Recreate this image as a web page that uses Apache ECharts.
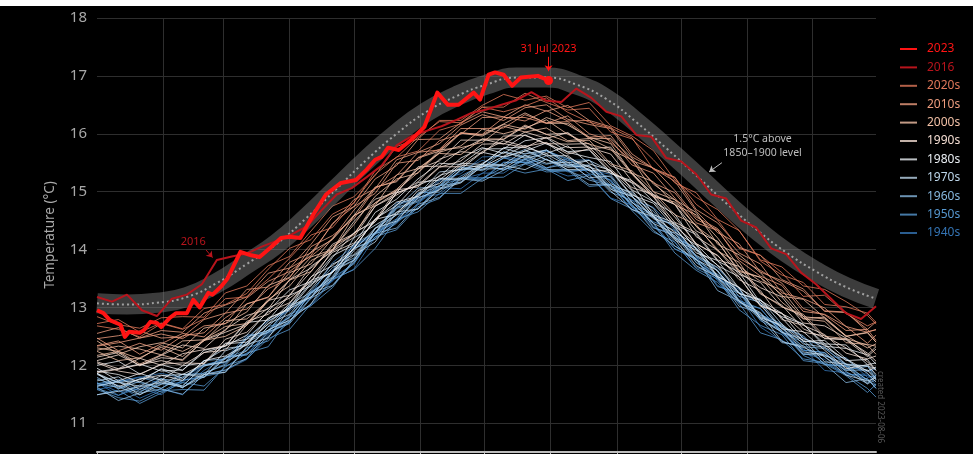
<!DOCTYPE html>
<html>
<head>
<meta charset="utf-8">
<script src="https://cdn.jsdelivr.net/npm/echarts@6/dist/echarts.min.js"></script>
<style>
  html, body { margin: 0; background: #fff; }
  #chart { position: absolute; left: 0; top: 6px; width: 973px; height: 448px; background: #000; }
</style>
</head>
<body>
<div id="chart"></div>
<script>
// calendar (non-leap year, day index 0 = 1 Jan)
const monthNames = ['Jan', 'Feb', 'Mar', 'Apr', 'May', 'Jun', 'Jul', 'Aug', 'Sep', 'Oct', 'Nov', 'Dec']
const monthLengths = [31, 28, 31, 30, 31, 30, 31, 31, 30, 31, 30, 31]

// 1.5°C above 1850–1900 level
const levelDays = [0, 14, 28, 42, 56, 70, 84, 98, 112, 126, 140, 154, 168, 182, 196, 210, 224, 238, 252, 266, 280, 294, 308, 322, 336, 350, 364]
const level15 = [13.07, 13.05, 13.08, 13.18, 13.42, 13.75, 14.10, 14.55, 15.05, 15.55, 16.00, 16.38, 16.65, 16.85, 16.97, 16.97, 16.85, 16.60, 16.20, 15.75, 15.28, 14.80, 14.35, 13.95, 13.62, 13.35, 13.15]

// day indices of the yearly lines below
const sampleDays = [0, 10, 20, 30, 40, 50, 60, 70, 80, 90, 100, 110, 120, 130, 140, 150, 160, 170, 180, 190, 200, 210, 220, 230, 240, 250, 260, 270, 280, 290, 300, 310, 320, 330, 340, 350, 360, 364]

// daily global surface air temperature (°C), one row per year
const years1940s = [
  [11.70, 11.48, 11.61, 11.49, 11.74, 11.79, 12.13, 12.20, 12.55, 12.74, 13.28, 13.47, 13.76, 14.28, 14.51, 14.91, 14.95, 15.24, 15.22, 15.51, 15.51, 15.41, 15.54, 15.23, 15.12, 14.69, 14.55, 14.12, 13.69, 13.56, 13.08, 12.87, 12.65, 12.21, 12.10, 11.83, 11.85, 11.66],
  [11.67, 11.72, 11.80, 11.68, 11.70, 12.00, 12.11, 12.52, 12.56, 12.99, 13.15, 13.64, 14.07, 14.26, 14.76, 14.89, 15.04, 15.36, 15.54, 15.44, 15.66, 15.71, 15.46, 15.37, 15.30, 14.81, 14.61, 14.39, 13.87, 13.50, 13.31, 12.82, 12.67, 12.49, 12.15, 12.13, 11.79, 11.82],
  [11.58, 11.65, 11.43, 11.59, 11.49, 11.84, 11.91, 12.10, 12.52, 12.88, 13.03, 13.47, 13.66, 14.22, 14.45, 14.80, 15.07, 15.05, 15.32, 15.32, 15.56, 15.40, 15.27, 15.30, 14.89, 14.77, 14.41, 14.01, 13.84, 13.38, 13.19, 12.66, 12.42, 12.29, 11.91, 11.87, 11.76, 11.60],
  [11.65, 11.71, 11.79, 11.86, 11.78, 12.00, 12.04, 12.48, 12.77, 12.94, 13.22, 13.77, 14.06, 14.29, 14.81, 14.86, 15.20, 15.31, 15.60, 15.61, 15.54, 15.72, 15.54, 15.55, 15.17, 14.85, 14.73, 14.34, 13.88, 13.68, 13.26, 13.07, 12.57, 12.47, 12.31, 11.99, 11.89, 11.94],
  [11.70, 11.54, 11.59, 11.77, 11.61, 11.91, 12.13, 12.18, 12.60, 12.83, 13.27, 13.45, 14.04, 14.26, 14.48, 14.79, 15.18, 15.22, 15.31, 15.59, 15.49, 15.56, 15.34, 15.38, 15.20, 14.76, 14.37, 14.28, 13.86, 13.46, 13.08, 12.98, 12.55, 12.26, 12.22, 11.85, 11.82, 11.79]
]
const years1950s = [
  [11.49, 11.57, 11.34, 11.52, 11.70, 11.64, 11.97, 12.21, 12.32, 12.83, 13.03, 13.34, 13.83, 14.22, 14.34, 14.74, 14.88, 15.24, 15.24, 15.25, 15.48, 15.34, 15.36, 15.09, 15.12, 14.67, 14.30, 14.13, 13.67, 13.49, 12.96, 12.69, 12.53, 12.08, 12.03, 11.82, 11.53, 11.67],
  [11.63, 11.73, 11.55, 11.68, 11.65, 11.98, 12.12, 12.26, 12.67, 12.76, 13.17, 13.64, 13.82, 14.30, 14.53, 14.98, 14.99, 15.27, 15.46, 15.37, 15.58, 15.47, 15.57, 15.31, 15.20, 14.73, 14.48, 14.33, 13.77, 13.54, 13.12, 12.98, 12.56, 12.40, 12.01, 11.99, 11.70, 11.83],
  [11.60, 11.48, 11.66, 11.54, 11.74, 11.81, 11.88, 12.30, 12.42, 12.75, 13.25, 13.51, 13.75, 14.29, 14.48, 14.71, 15.10, 15.23, 15.20, 15.50, 15.51, 15.37, 15.36, 15.37, 14.99, 14.85, 14.46, 14.01, 13.83, 13.36, 13.25, 12.77, 12.58, 12.17, 12.01, 11.99, 11.75, 11.61],
  [11.68, 11.75, 11.70, 11.60, 11.84, 11.86, 12.02, 12.48, 12.60, 13.02, 13.17, 13.61, 14.01, 14.18, 14.71, 14.82, 15.09, 15.43, 15.38, 15.58, 15.50, 15.70, 15.57, 15.36, 15.25, 14.74, 14.59, 14.19, 14.02, 13.62, 13.13, 12.87, 12.72, 12.26, 12.22, 11.92, 11.98, 11.82],
  [11.58, 11.44, 11.38, 11.56, 11.58, 11.57, 11.99, 12.11, 12.46, 12.62, 13.06, 13.49, 13.65, 14.02, 14.52, 14.65, 14.97, 14.97, 15.23, 15.42, 15.32, 15.39, 15.19, 15.28, 14.88, 14.70, 14.45, 13.94, 13.64, 13.43, 13.07, 12.56, 12.44, 12.11, 12.05, 11.84, 11.60, 11.45]
]
const years1960s = [
  [11.68, 11.62, 11.49, 11.72, 11.62, 11.80, 12.15, 12.18, 12.49, 12.85, 13.25, 13.38, 13.81, 14.30, 14.60, 14.70, 15.06, 15.17, 15.46, 15.38, 15.48, 15.62, 15.37, 15.20, 15.10, 14.93, 14.38, 14.24, 13.78, 13.51, 13.02, 12.90, 12.60, 12.19, 12.21, 11.89, 11.68, 11.75],
  [11.62, 11.39, 11.52, 11.59, 11.50, 11.84, 11.92, 12.12, 12.58, 12.72, 13.16, 13.37, 13.78, 14.28, 14.37, 14.78, 14.90, 15.22, 15.18, 15.37, 15.56, 15.38, 15.38, 15.12, 15.12, 14.78, 14.33, 14.06, 13.84, 13.29, 13.11, 12.80, 12.39, 12.34, 12.02, 11.70, 11.77, 11.60],
  [11.86, 11.60, 11.72, 11.60, 11.80, 12.01, 12.06, 12.49, 12.60, 12.83, 13.29, 13.69, 13.85, 14.36, 14.73, 14.84, 15.11, 15.42, 15.36, 15.58, 15.73, 15.55, 15.44, 15.44, 15.07, 14.91, 14.66, 14.21, 14.03, 13.50, 13.25, 12.86, 12.67, 12.51, 12.14, 11.91, 11.92, 11.78],
  [11.76, 11.65, 11.53, 11.77, 11.61, 11.87, 12.00, 12.40, 12.57, 12.75, 13.25, 13.51, 14.02, 14.18, 14.47, 14.95, 15.10, 15.16, 15.44, 15.45, 15.63, 15.41, 15.48, 15.39, 15.05, 14.81, 14.59, 14.06, 13.82, 13.57, 13.27, 12.80, 12.60, 12.19, 12.17, 12.02, 11.74, 11.65],
  [11.79, 11.59, 11.77, 11.76, 11.73, 12.08, 12.11, 12.45, 12.57, 13.05, 13.26, 13.53, 14.10, 14.29, 14.72, 15.06, 15.09, 15.37, 15.42, 15.69, 15.60, 15.72, 15.46, 15.46, 15.10, 14.99, 14.58, 14.40, 13.88, 13.63, 13.19, 13.09, 12.64, 12.32, 12.29, 12.02, 11.99, 11.76]
]
const years1970s = [
  [11.64, 11.72, 11.49, 11.67, 11.85, 11.79, 12.12, 12.36, 12.47, 12.98, 13.18, 13.49, 13.98, 14.37, 14.49, 14.89, 15.03, 15.39, 15.39, 15.40, 15.63, 15.49, 15.51, 15.24, 15.27, 14.82, 14.45, 14.28, 13.82, 13.64, 13.11, 12.84, 12.68, 12.23, 12.18, 11.97, 11.68, 11.82],
  [11.84, 11.70, 11.64, 11.82, 11.84, 11.83, 12.25, 12.37, 12.72, 12.88, 13.32, 13.75, 13.91, 14.28, 14.78, 14.91, 15.23, 15.23, 15.49, 15.68, 15.58, 15.65, 15.45, 15.54, 15.14, 14.96, 14.71, 14.20, 13.90, 13.69, 13.33, 12.82, 12.70, 12.37, 12.31, 12.10, 11.86, 11.71],
  [11.49, 11.55, 11.63, 11.70, 11.62, 11.84, 11.88, 12.32, 12.61, 12.78, 13.06, 13.61, 13.90, 14.13, 14.65, 14.70, 15.04, 15.15, 15.44, 15.45, 15.38, 15.56, 15.38, 15.39, 15.01, 14.69, 14.57, 14.18, 13.72, 13.52, 13.10, 12.91, 12.41, 12.31, 12.15, 11.83, 11.73, 11.78],
  [11.86, 11.70, 11.75, 11.93, 11.77, 12.07, 12.29, 12.34, 12.76, 12.99, 13.43, 13.61, 14.20, 14.42, 14.64, 14.95, 15.34, 15.38, 15.47, 15.75, 15.65, 15.72, 15.50, 15.54, 15.36, 14.92, 14.53, 14.44, 14.02, 13.62, 13.24, 13.14, 12.71, 12.42, 12.38, 12.01, 11.98, 11.95],
  [11.73, 11.80, 11.58, 11.74, 11.64, 11.99, 12.06, 12.25, 12.67, 13.03, 13.18, 13.62, 13.81, 14.37, 14.60, 14.95, 15.22, 15.20, 15.47, 15.47, 15.71, 15.55, 15.42, 15.45, 15.04, 14.92, 14.56, 14.16, 13.99, 13.53, 13.34, 12.81, 12.57, 12.44, 12.06, 12.02, 11.91, 11.75]
]
const years1980s = [
  [11.95, 11.73, 11.86, 11.74, 11.99, 12.04, 12.38, 12.45, 12.80, 12.99, 13.53, 13.72, 14.01, 14.53, 14.76, 15.16, 15.20, 15.49, 15.47, 15.76, 15.76, 15.66, 15.79, 15.48, 15.37, 14.94, 14.80, 14.37, 13.94, 13.81, 13.33, 13.12, 12.90, 12.46, 12.35, 12.08, 12.10, 11.91],
  [11.89, 11.94, 12.02, 11.90, 11.92, 12.22, 12.33, 12.74, 12.78, 13.21, 13.37, 13.86, 14.29, 14.48, 14.98, 15.11, 15.26, 15.58, 15.76, 15.66, 15.88, 15.93, 15.68, 15.59, 15.52, 15.03, 14.83, 14.61, 14.09, 13.72, 13.53, 13.04, 12.89, 12.71, 12.37, 12.35, 12.01, 12.04],
  [11.86, 11.63, 11.76, 11.83, 11.74, 12.08, 12.16, 12.36, 12.82, 12.96, 13.40, 13.61, 14.02, 14.52, 14.61, 15.02, 15.14, 15.46, 15.42, 15.61, 15.80, 15.62, 15.62, 15.36, 15.36, 15.02, 14.57, 14.30, 14.08, 13.53, 13.35, 13.04, 12.63, 12.58, 12.26, 11.94, 12.01, 11.84],
  [12.00, 12.07, 11.85, 12.01, 11.91, 12.26, 12.33, 12.52, 12.94, 13.30, 13.45, 13.89, 14.08, 14.64, 14.87, 15.22, 15.49, 15.47, 15.74, 15.74, 15.98, 15.82, 15.69, 15.72, 15.31, 15.19, 14.83, 14.43, 14.26, 13.80, 13.61, 13.08, 12.84, 12.71, 12.33, 12.29, 12.18, 12.02],
  [11.90, 11.84, 11.71, 11.94, 11.84, 12.02, 12.37, 12.40, 12.71, 13.07, 13.47, 13.60, 14.03, 14.52, 14.82, 14.92, 15.28, 15.39, 15.68, 15.60, 15.70, 15.84, 15.59, 15.42, 15.32, 15.15, 14.60, 14.46, 14.00, 13.73, 13.24, 13.12, 12.82, 12.41, 12.43, 12.11, 11.90, 11.97]
]
const years1990s = [
  [11.87, 11.93, 12.01, 12.08, 12.00, 12.22, 12.26, 12.70, 12.99, 13.16, 13.44, 13.99, 14.28, 14.51, 15.03, 15.08, 15.42, 15.53, 15.82, 15.83, 15.76, 15.94, 15.76, 15.77, 15.39, 15.07, 14.95, 14.56, 14.10, 13.90, 13.48, 13.29, 12.79, 12.69, 12.53, 12.21, 12.11, 12.16],
  [12.08, 12.18, 12.00, 12.13, 12.10, 12.43, 12.57, 12.71, 13.12, 13.21, 13.62, 14.09, 14.27, 14.75, 14.98, 15.43, 15.44, 15.72, 15.91, 15.82, 16.03, 15.92, 16.02, 15.76, 15.65, 15.18, 14.93, 14.78, 14.22, 13.99, 13.57, 13.43, 13.01, 12.85, 12.46, 12.44, 12.15, 12.28],
  [12.06, 11.94, 12.12, 12.00, 12.20, 12.27, 12.34, 12.76, 12.88, 13.21, 13.71, 13.97, 14.21, 14.75, 14.94, 15.17, 15.56, 15.69, 15.66, 15.96, 15.97, 15.83, 15.82, 15.83, 15.45, 15.31, 14.92, 14.47, 14.29, 13.82, 13.71, 13.23, 13.04, 12.63, 12.47, 12.45, 12.21, 12.07],
  [12.04, 11.90, 11.84, 12.02, 12.04, 12.03, 12.45, 12.57, 12.92, 13.08, 13.52, 13.95, 14.11, 14.48, 14.98, 15.11, 15.43, 15.43, 15.69, 15.88, 15.78, 15.85, 15.65, 15.74, 15.34, 15.16, 14.91, 14.40, 14.10, 13.89, 13.53, 13.02, 12.90, 12.57, 12.51, 12.30, 12.06, 11.91],
  [12.14, 12.22, 11.99, 12.17, 12.35, 12.29, 12.62, 12.86, 12.97, 13.48, 13.68, 13.99, 14.48, 14.87, 14.99, 15.39, 15.53, 15.89, 15.89, 15.90, 16.13, 15.99, 16.01, 15.74, 15.77, 15.32, 14.95, 14.78, 14.32, 14.14, 13.61, 13.34, 13.18, 12.73, 12.68, 12.47, 12.18, 12.32]
]
const years2000s = [
  [12.24, 12.08, 12.13, 12.31, 12.15, 12.45, 12.67, 12.72, 13.14, 13.37, 13.81, 13.99, 14.58, 14.80, 15.02, 15.33, 15.72, 15.76, 15.85, 16.13, 16.03, 16.10, 15.88, 15.92, 15.74, 15.30, 14.91, 14.82, 14.40, 14.00, 13.62, 13.52, 13.09, 12.80, 12.76, 12.39, 12.36, 12.33],
  [12.26, 12.33, 12.28, 12.18, 12.42, 12.44, 12.60, 13.06, 13.18, 13.60, 13.75, 14.19, 14.59, 14.76, 15.29, 15.40, 15.67, 16.01, 15.96, 16.16, 16.08, 16.28, 16.15, 15.94, 15.83, 15.32, 15.17, 14.77, 14.60, 14.20, 13.71, 13.45, 13.30, 12.84, 12.80, 12.50, 12.56, 12.40],
  [12.30, 12.24, 12.11, 12.34, 12.24, 12.42, 12.77, 12.80, 13.11, 13.47, 13.87, 14.00, 14.43, 14.92, 15.22, 15.32, 15.68, 15.79, 16.08, 16.00, 16.10, 16.24, 15.99, 15.82, 15.72, 15.55, 15.00, 14.86, 14.40, 14.13, 13.64, 13.52, 13.22, 12.81, 12.83, 12.51, 12.30, 12.37],
  [12.42, 12.19, 12.32, 12.39, 12.30, 12.64, 12.72, 12.92, 13.38, 13.52, 13.96, 14.17, 14.58, 15.08, 15.17, 15.58, 15.70, 16.02, 15.98, 16.17, 16.36, 16.18, 16.18, 15.92, 15.92, 15.58, 15.13, 14.86, 14.64, 14.09, 13.91, 13.60, 13.19, 13.14, 12.82, 12.50, 12.57, 12.40],
  [12.17, 12.24, 12.02, 12.18, 12.08, 12.43, 12.50, 12.69, 13.11, 13.47, 13.62, 14.06, 14.25, 14.81, 15.04, 15.39, 15.66, 15.64, 15.91, 15.91, 16.15, 15.99, 15.86, 15.89, 15.48, 15.36, 15.00, 14.60, 14.43, 13.97, 13.78, 13.25, 13.01, 12.88, 12.50, 12.46, 12.35, 12.19]
]
const years2010s = [
  [12.47, 12.25, 12.38, 12.26, 12.51, 12.56, 12.90, 12.97, 13.32, 13.51, 14.05, 14.24, 14.53, 15.05, 15.28, 15.68, 15.72, 16.01, 15.99, 16.28, 16.28, 16.18, 16.31, 16.00, 15.89, 15.46, 15.32, 14.89, 14.46, 14.33, 13.85, 13.64, 13.42, 12.98, 12.87, 12.60, 12.62, 12.43],
  [12.46, 12.51, 12.59, 12.47, 12.49, 12.79, 12.90, 13.31, 13.35, 13.78, 13.94, 14.43, 14.86, 15.05, 15.55, 15.68, 15.83, 16.15, 16.33, 16.23, 16.45, 16.50, 16.25, 16.16, 16.09, 15.60, 15.40, 15.18, 14.66, 14.29, 14.10, 13.61, 13.46, 13.28, 12.94, 12.92, 12.58, 12.61],
  [12.33, 12.39, 12.47, 12.54, 12.46, 12.68, 12.72, 13.16, 13.45, 13.62, 13.90, 14.45, 14.74, 14.97, 15.49, 15.54, 15.88, 15.99, 16.28, 16.29, 16.22, 16.40, 16.22, 16.23, 15.85, 15.53, 15.41, 15.02, 14.56, 14.36, 13.94, 13.75, 13.25, 13.15, 12.99, 12.67, 12.57, 12.62],
  [12.55, 12.65, 12.47, 12.60, 12.57, 12.90, 13.04, 13.18, 13.59, 13.68, 14.09, 14.56, 14.74, 15.22, 15.45, 15.90, 15.91, 16.19, 16.38, 16.29, 16.50, 16.39, 16.49, 16.23, 16.12, 15.65, 15.40, 15.25, 14.69, 14.46, 14.04, 13.90, 13.48, 13.32, 12.93, 12.91, 12.62, 12.75],
  [12.34, 12.42, 12.19, 12.37, 12.55, 12.49, 12.82, 13.06, 13.17, 13.68, 13.88, 14.19, 14.68, 15.07, 15.19, 15.59, 15.73, 16.09, 16.09, 16.10, 16.33, 16.19, 16.21, 15.94, 15.97, 15.52, 15.15, 14.98, 14.52, 14.34, 13.81, 13.54, 13.38, 12.93, 12.88, 12.67, 12.38, 12.52]
]
const years2020s = [
  [12.72, 12.79, 12.57, 12.73, 12.63, 12.98, 13.05, 13.24, 13.66, 14.02, 14.17, 14.61, 14.80, 15.36, 15.59, 15.94, 16.21, 16.19, 16.46, 16.46, 16.70, 16.54, 16.41, 16.44, 16.03, 15.91, 15.55, 15.15, 14.98, 14.52, 14.33, 13.80, 13.56, 13.43, 13.05, 13.01, 12.90, 12.74],
  [12.68, 12.62, 12.49, 12.72, 12.62, 12.80, 13.15, 13.18, 13.49, 13.85, 14.25, 14.38, 14.81, 15.30, 15.60, 15.70, 16.06, 16.17, 16.46, 16.38, 16.48, 16.62, 16.37, 16.20, 16.10, 15.93, 15.38, 15.24, 14.78, 14.51, 14.02, 13.90, 13.60, 13.19, 13.21, 12.89, 12.68, 12.75],
  [12.84, 12.70, 12.64, 12.82, 12.84, 12.83, 13.25, 13.37, 13.72, 13.88, 14.32, 14.75, 14.91, 15.28, 15.78, 15.91, 16.23, 16.23, 16.49, 16.68, 16.58, 16.65, 16.45, 16.54, 16.14, 15.96, 15.71, 15.20, 14.90, 14.69, 14.33, 13.82, 13.70, 13.37, 13.31, 13.10, 12.86, 12.71]
]

const days2016 = [0, 7, 14, 21, 28, 35, 42, 49, 56, 63, 70, 77, 84, 91, 98, 105, 112, 119, 126, 133, 140, 147, 154, 161, 168, 175, 182, 189, 196, 203, 210, 217, 224, 231, 238, 245, 252, 259, 266, 273, 280, 287, 294, 301, 308, 315, 322, 329, 336, 343, 350, 357, 364]
const temp2016 = [13.18, 13.10, 13.22, 12.95, 12.85, 13.15, 13.22, 13.40, 13.82, 13.88, 13.93, 14.05, 14.15, 14.26, 14.40, 14.68, 14.95, 15.06, 15.25, 15.45, 15.80, 15.96, 16.05, 16.13, 16.24, 16.36, 16.42, 16.50, 16.58, 16.72, 16.57, 16.55, 16.78, 16.62, 16.38, 16.30, 15.98, 15.95, 15.58, 15.52, 15.30, 14.95, 14.88, 14.50, 14.38, 14.02, 13.92, 13.60, 13.40, 13.15, 12.90, 12.80, 13.02]

const days2023 = [0, 3, 6, 11, 13, 15, 20, 22, 25, 28, 30, 34, 37, 42, 45, 48, 52, 54, 58, 61, 67, 72, 76, 81, 86, 90, 95, 101, 107, 114, 121, 126, 130, 133, 136, 141, 147, 153, 159, 164, 169, 176, 179, 183, 186, 190, 194, 198, 206, 211]
const temp2023 = [12.95, 12.90, 12.78, 12.70, 12.49, 12.58, 12.56, 12.61, 12.75, 12.73, 12.66, 12.82, 12.90, 12.90, 13.13, 13.00, 13.25, 13.22, 13.36, 13.50, 13.96, 13.90, 13.87, 14.03, 14.20, 14.22, 14.20, 14.60, 14.95, 15.15, 15.20, 15.38, 15.55, 15.60, 15.76, 15.72, 15.90, 16.12, 16.71, 16.50, 16.50, 16.71, 16.59, 17.02, 17.06, 17.02, 16.83, 16.97, 17.00, 16.92]

const decades = [
  { name: '1940s', rows: years1940s },
  { name: '1950s', rows: years1950s },
  { name: '1960s', rows: years1960s },
  { name: '1970s', rows: years1970s },
  { name: '1980s', rows: years1980s },
  { name: '1990s', rows: years1990s },
  { name: '2000s', rows: years2000s },
  { name: '2010s', rows: years2010s },
  { name: '2020s', rows: years2020s }
]
const legendOrder = ['2023', '2016', '2020s', '2010s', '2000s', '1990s', '1980s', '1970s', '1960s', '1950s', '1940s']

// styles
const FONT = 'Noto Sans'
const colors = {
  '2023': '#ff1414',
  '2016': '#b8141c',
  '2020s': '#e0785a',
  '2010s': '#ec9c7e',
  '2000s': '#f2c0a6',
  '1990s': '#f4ddd2',
  '1980s': '#e9eef3',
  '1970s': '#bcd6ea',
  '1960s': '#86b7de',
  '1950s': '#5697cf',
  '1940s': '#3474b4'
}

// category labels for every day of the year
const dayLabels = []
const monthStarts = []
monthLengths.forEach((len, m) => {
  monthStarts.push(dayLabels.length)
  for (let d = 1; d <= len; d++) dayLabels.push(monthNames[m] + ' ' + d)
})
const isMonthStart = (i) => monthStarts.indexOf(i) >= 0
const pairs = (days, vals) => vals.map((v, i) => [days[i], v])

const chart = echarts.init(document.getElementById('chart'))

const series = []

decades.forEach(dec => {
  dec.rows.forEach(row => {
    series.push({
      name: dec.name,
      type: 'line',
      data: pairs(sampleDays, row),
      symbol: 'none',
      silent: true,
      lineStyle: { color: colors[dec.name], width: 1, opacity: 0.8 },
      itemStyle: { color: colors[dec.name] },
      z: 2
    })
  })
})

// grey 1.5°C band and its dotted centre line
series.push({
  name: 'level',
  type: 'line',
  data: pairs(levelDays, level15),
  smooth: true,
  symbol: 'none',
  silent: true,
  lineStyle: { color: 'rgba(120,120,120,0.5)', width: 20, cap: 'butt' },
  z: 3,
  markLine: {
    silent: true,
    symbol: ['none', 'arrow'],
    symbolSize: 6,
    label: { show: false },
    lineStyle: { color: '#bdbdbd', width: 1, type: 'solid' },
    data: [[{ coord: [292, 15.50] }, { coord: [286, 15.34] }]]
  },
  markPoint: {
    symbol: 'rect',
    symbolSize: 1,
    itemStyle: { color: 'transparent' },
    label: {
      show: true, position: 'inside', color: '#bdbdbd', fontSize: 10.5, fontFamily: FONT,
      lineHeight: 14, formatter: '1.5°C above\n1850–1900 level'
    },
    data: [{ coord: [311, 15.78] }]
  }
})
series.push({
  name: 'level line',
  type: 'line',
  data: pairs(levelDays, level15),
  smooth: true,
  symbol: 'none',
  silent: true,
  lineStyle: { color: '#a0a0a0', width: 2, type: [2, 3] },
  z: 4
})

series.push({
  name: '2016',
  type: 'line',
  data: pairs(days2016, temp2016),
  symbol: 'none',
  silent: true,
  lineStyle: { color: colors['2016'], width: 2 },
  itemStyle: { color: colors['2016'] },
  z: 5,
  markLine: {
    silent: true,
    symbol: ['none', 'arrow'],
    symbolSize: 6,
    label: { show: false },
    lineStyle: { color: colors['2016'], width: 1, type: 'solid' },
    data: [[{ coord: [51, 13.99] }, { coord: [54, 13.86] }]]
  },
  markPoint: {
    symbol: 'rect',
    symbolSize: 1,
    itemStyle: { color: 'transparent' },
    label: { show: true, position: 'inside', color: colors['2016'], fontSize: 11, fontFamily: FONT, formatter: '2016' },
    data: [{ coord: [45, 14.13] }]
  }
})

const last = days2023.length - 1
series.push({
  name: '2023',
  type: 'line',
  data: pairs(days2023, temp2023),
  symbol: 'none',
  silent: true,
  lineStyle: { color: colors['2023'], width: 4, join: 'round' },
  itemStyle: { color: colors['2023'] },
  z: 6,
  markLine: {
    silent: true,
    symbol: ['none', 'arrow'],
    symbolSize: 6,
    label: { show: false },
    lineStyle: { color: colors['2023'], width: 1, type: 'solid' },
    data: [[{ coord: [days2023[last], 17.33] }, { coord: [days2023[last], 17.08] }]]
  },
  markPoint: {
    data: [
      {
        coord: [days2023[last], temp2023[last]],
        symbol: 'circle', symbolSize: 9,
        itemStyle: { color: colors['2023'] },
        label: { show: false }
      },
      {
        coord: [days2023[last], 17.47],
        symbol: 'rect', symbolSize: 1,
        itemStyle: { color: 'transparent' },
        label: { show: true, position: 'inside', color: colors['2023'], fontSize: 11, fontFamily: FONT, formatter: '31 Jul 2023' }
      }
    ]
  }
})

const option = {
  backgroundColor: '#000',
  animation: false,
  grid: { left: 97, right: 97, top: 12, bottom: -27, containLabel: false, outerBoundsMode: 'none' },
  legend: {
    orient: 'vertical',
    left: 894,
    top: 31,
    itemWidth: 17,
    itemHeight: 12,
    itemGap: 4.4,
    itemStyle: { opacity: 0, borderWidth: 0 },
    data: legendOrder.map(n => ({ name: n, textStyle: { color: colors[n] } })),
    textStyle: { fontFamily: FONT, fontSize: 12, lineHeight: 14, padding: [0, 0, 0, 5] }
  },
  xAxis: {
    type: 'category',
    data: dayLabels,
    boundaryGap: false,
    offset: -29,
    axisLine: { lineStyle: { color: '#bdbdbd', width: 2 } },
    axisTick: { interval: isMonthStart, length: 5, lineStyle: { color: '#bdbdbd' } },
    axisLabel: {
      interval: isMonthStart, color: '#aaa', fontFamily: FONT, fontSize: 13,
      formatter: v => v.split(' ')[0]
    },
    splitLine: {
      show: true,
      interval: (i) => i > 0 && isMonthStart(i),
      lineStyle: { color: '#2e2e2e', width: 1 }
    }
  },
  yAxis: {
    type: 'value',
    min: 10,
    max: 18,
    interval: 1,
    axisLine: { show: false },
    axisTick: { show: false },
    axisLabel: { color: '#a8a8a8', fontFamily: FONT, fontSize: 15, margin: 10 },
    splitLine: { lineStyle: { color: '#2e2e2e', width: 1 } }
  },
  graphic: [
    {
      type: 'text',
      x: 50, y: 229,
      rotation: Math.PI / 2,
      style: {
        text: 'Temperature (°C)', fill: '#aaa', font: '13.5px "Noto Sans"',
        textAlign: 'center', textVerticalAlign: 'middle', align: 'center', verticalAlign: 'middle'
      }
    },
    {
      type: 'text',
      x: 880, y: 401,
      rotation: -Math.PI / 2,
      style: {
        text: 'created 2023-08-06', fill: '#5a5a5a', font: '8px "Noto Sans"',
        textAlign: 'center', textVerticalAlign: 'middle', align: 'center', verticalAlign: 'middle'
      }
    }
  ],
  series: series
}

chart.setOption(option)
</script>
</body>
</html>
